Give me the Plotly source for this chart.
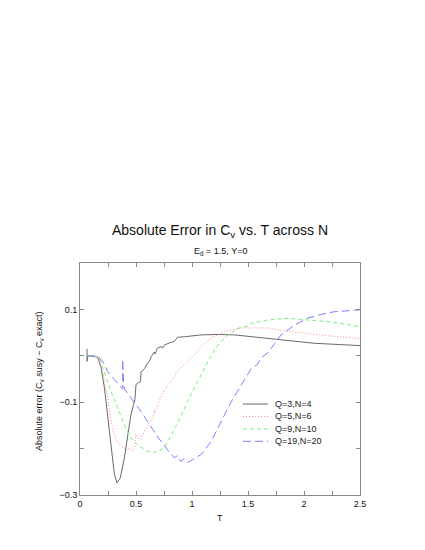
import plotly.graph_objects as go

# Q=3,N=4
t_q3 = [0.063, 0.063, 0.07, 0.10, 0.158, 0.188, 0.218, 0.247, 0.277, 0.307, 0.33, 0.36,
        0.396, 0.426, 0.455, 0.49, 0.50, 0.52, 0.54, 0.545, 0.575, 0.605, 0.62, 0.635,
        0.664, 0.67, 0.69, 0.723, 0.74, 0.753, 0.783, 0.80, 0.843, 0.857, 0.87, 0.932,
        1.08, 1.23, 1.38, 1.5, 1.676, 1.8, 2.09, 2.5]
err_q3 = [0.015, -0.012, 0.0, 0.0, -0.003, -0.025, -0.069, -0.127, -0.19, -0.255, -0.274, -0.263,
          -0.22, -0.17, -0.127, -0.095, -0.062, -0.058, -0.056, -0.035, -0.028, -0.015, -0.012, -0.002,
          0.008, 0.004, 0.016, 0.02, 0.017, 0.023, 0.027, 0.028, 0.031, 0.036, 0.04, 0.041,
          0.045, 0.046, 0.045, 0.042, 0.038, 0.034, 0.027, 0.022]

# Q=5,N=6
t_q5 = [0.065, 0.10, 0.157, 0.203, 0.247, 0.277, 0.307, 0.35, 0.396, 0.41, 0.426, 0.44,
        0.47, 0.49, 0.495, 0.52, 0.545, 0.574, 0.62, 0.655, 0.664, 0.67, 0.723, 0.783,
        0.843, 0.872, 0.932, 1.021, 1.08, 1.17, 1.29, 1.44, 1.5, 1.676, 1.85, 2.09, 2.5]
err_q5 = [0.0, 0.0, -0.002, -0.034, -0.091, -0.142, -0.17, -0.192, -0.2, -0.195, -0.205, -0.198,
          -0.205, -0.2, -0.168, -0.177, -0.18, -0.163, -0.145, -0.13, -0.116, -0.124, -0.088, -0.063,
          -0.045, -0.032, -0.02, 0.002, 0.02, 0.038, 0.052, 0.06, 0.06, 0.06, 0.053, 0.046, 0.037]

# Q=9,N=10
t_q9 = [0.065, 0.10, 0.17, 0.218, 0.277, 0.337, 0.396, 0.455, 0.515, 0.605, 0.664, 0.694,
        0.753, 0.783, 0.872, 0.962, 1.05, 1.14, 1.23, 1.32, 1.41, 1.5, 1.53, 1.676,
        1.855, 2.03, 2.27, 2.5]
err_q9 = [0.0, 0.0, -0.002, -0.034, -0.077, -0.112, -0.149, -0.177, -0.192, -0.206, -0.208, -0.206,
          -0.199, -0.185, -0.145, -0.098, -0.056, -0.013, 0.023, 0.045, 0.059, 0.064, 0.07, 0.077,
          0.081, 0.077, 0.072, 0.063]

# Q=19,N=20
t_q19 = [0.065, 0.10, 0.16, 0.2, 0.247, 0.307, 0.337, 0.37, 0.381, 0.381, 0.39, 0.40,
         0.426, 0.486, 0.545, 0.605, 0.694, 0.783, 0.843, 0.87, 0.902, 0.93, 0.96, 0.991,
         1.08, 1.17, 1.26, 1.35, 1.44, 1.53, 1.587, 1.616, 1.676, 1.795, 1.914, 2.03,
         2.15, 2.27, 2.39, 2.5]
err_q19 = [0.0, 0.0, -0.002, -0.011, -0.034, -0.052, -0.06, -0.07, -0.072, -0.008, -0.065, -0.072,
           -0.08, -0.101, -0.12, -0.142, -0.175, -0.203, -0.22, -0.215, -0.228, -0.222, -0.23, -0.226,
           -0.213, -0.185, -0.142, -0.099, -0.063, -0.027, -0.018, -0.004, 0.006, 0.045, 0.066, 0.081,
           0.089, 0.095, 0.097, 0.099]

series = [
    ("Q=3,N=4", t_q3, err_q3, "#6a6a6a", "solid"),
    ("Q=5,N=6", t_q5, err_q5, "#ff8a8a", "1px,2px"),
    ("Q=9,N=10", t_q9, err_q9, "#78f078", "4px,3px"),
    ("Q=19,N=20", t_q19, err_q19, "#8080ff", "8px,4px"),
]

FONT = "Liberation Sans, Arial, sans-serif"

fig = go.Figure()
for name, t, e, color, dash in series:
    fig.add_trace(go.Scatter(x=t, y=e, mode="lines", name=name, showlegend=False,
                             line=dict(color=color, width=1, dash=dash)))

# hand-drawn legend (compact like the original)
for i, (name, t, e, color, dash) in enumerate(series):
    ly = 0.392 - i * 0.0535
    fig.add_shape(type="line", xref="paper", yref="paper",
                  x0=0.582, x1=0.672, y0=ly, y1=ly,
                  line=dict(color=color, width=1, dash=dash))
    fig.add_annotation(text=name, xref="paper", yref="paper", x=0.69, y=ly,
                       xanchor="left", yanchor="middle", showarrow=False,
                       font=dict(size=9, color="#222"))

fig.add_annotation(text="Absolute Error in C<sub>v</sub> vs. T across N",
                   xref="paper", yref="paper", x=0.5, y=1.138, xanchor="center",
                   yanchor="middle", showarrow=False, font=dict(size=14, color="#111"))
fig.add_annotation(text="E<sub>d</sub> = 1.5, Y=0",
                   xref="paper", yref="paper", x=0.5, y=1.05, xanchor="center",
                   yanchor="middle", showarrow=False, font=dict(size=9, color="#111"))
fig.add_annotation(text="Absolute error (C<sub>v</sub> susy \u2212 C<sub>v</sub> exact)",
                   xref="paper", yref="paper", x=-0.144, y=0.49, textangle=-90,
                   xanchor="center", yanchor="middle", showarrow=False,
                   font=dict(size=9, color="#111"))
fig.add_annotation(text="T", xref="paper", yref="paper", x=0.5, y=-0.099,
                   xanchor="center", yanchor="middle", showarrow=False,
                   font=dict(size=9, color="#111"))

fig.update_xaxes(range=[0, 2.5], tick0=0, dtick=0.5, ticks="inside", ticklen=4,
                 tickcolor="#888", mirror="ticks", showline=True, linecolor="#888",
                 linewidth=1, showgrid=False, zeroline=False,
                 minor=dict(dtick=0.25, ticks="inside", ticklen=4, tickcolor="#888"),
                 tickfont=dict(size=9, color="#111"))
fig.update_yaxes(range=[-0.3, 0.2], tick0=-0.3, dtick=0.2, ticks="inside", ticklen=4,
                 tickcolor="#888", mirror="ticks", showline=True, linecolor="#888",
                 linewidth=1, showgrid=False, zeroline=False,
                 minor=dict(dtick=0.1, ticks="inside", ticklen=4, tickcolor="#888"),
                 tickfont=dict(size=9, color="#111"))

fig.update_layout(width=425, height=550, margin=dict(l=72, r=73, t=255, b=63),
                  paper_bgcolor="white", plot_bgcolor="white",
                  font=dict(family=FONT, size=9, color="#111"))

fig.write_html("out.html")
